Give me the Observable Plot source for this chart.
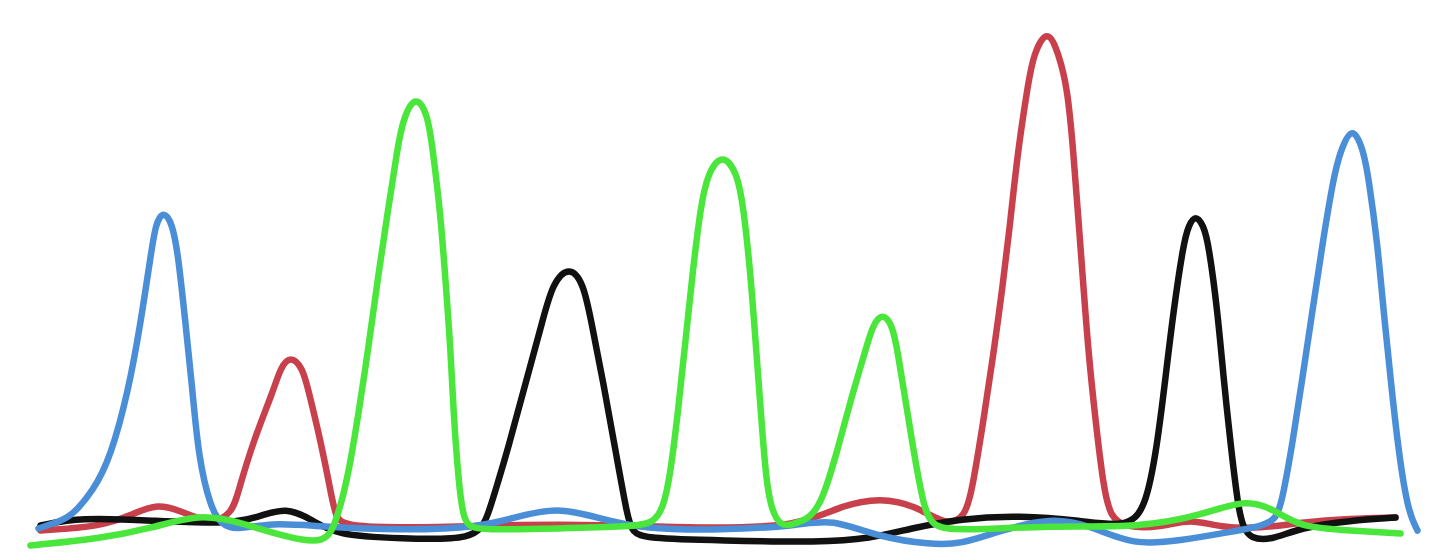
<!DOCTYPE html>
<html>
<head>
<meta charset="utf-8">
<script src="https://cdn.jsdelivr.net/npm/d3@7"></script>
<script src="https://cdn.jsdelivr.net/npm/@observablehq/plot@0.6"></script>
<style>
  html, body { margin: 0; padding: 0; background: #fff; }
  #chart svg { display: block; }
</style>
</head>
<body>
<div id="chart"></div>
<script>
// Chromatogram trace readings: scan position and signal intensity per dye channel
const blueX = [38,55,70,93,110,128,140,150,155,163,172,178,185,192,198,210,220,235,270,320,400,480,520,560,600,640,720,800,830,880,930,960,1000,1050,1090,1133,1180,1227,1265,1277,1283,1292,1302,1312,1322,1333,1340,1352,1363,1368,1377,1383,1390,1397,1407,1417];
const blueY = [32,38,43,70,103,170,237,303,337,350,337,303,237,170,103,53,37,30,38,34,30,33,45,53,42,32,30,35,42,23,16,16,30,43,35,15,20,28,35,43,67,117,183,250,317,383,410,436,410,383,317,250,183,117,50,30];

const redX = [40,100,130,155,180,210,232,238,253,273,280,290,302,308,320,330,335,345,440,520,600,700,800,840,880,915,945,965,972,983,993,1002,1010,1017,1027,1033,1047,1058,1067,1073,1078,1083,1088,1095,1103,1110,1125,1160,1190,1220,1260,1300,1350,1395];
const redY = [30,34,45,57,50,36,47,70,120,170,193,205,193,170,120,70,43,33,33,36,36,32,34,55,63,55,35,43,73,140,207,273,340,407,473,507,533,507,473,407,340,273,207,140,73,43,33,33,42,33,32,38,42,43];

const greenX = [30,100,150,200,240,290,325,335,347,358,368,377,387,397,403,415,427,432,440,445,450,453,458,463,475,560,630,653,663,670,678,685,692,700,707,722,737,743,750,755,760,765,770,780,795,810,822,837,850,865,872,882,892,897,905,913,922,930,960,1050,1140,1200,1247,1275,1300,1350,1400];
const greenY = [15,22,32,47,38,22,17,37,80,147,213,280,347,413,443,466,447,413,347,280,213,147,80,37,30,32,34,37,53,87,153,220,287,353,387,408,387,353,287,220,153,87,53,33,37,43,60,110,160,210,235,248,235,210,160,110,60,33,30,35,33,45,62,50,33,30,27];

const blackX = [40,80,150,230,262,285,310,335,400,475,487,497,507,525,543,552,569,583,590,603,615,627,632,645,720,820,870,910,960,1020,1080,1125,1145,1157,1165,1173,1183,1188,1195,1203,1208,1217,1223,1230,1238,1243,1250,1270,1300,1350,1395];
const blackY = [35,43,40,36,45,53,42,25,22,20,43,77,110,177,243,277,295,277,243,177,110,43,28,22,20,18,22,32,42,45,40,33,50,117,183,250,317,335,346,335,317,250,183,117,50,33,22,20,33,40,43];

const channels = ["T", "G", "C", "A"];   // drawn in this order
const channelColors = ["#c7404b", "#111111", "#4a8ed8", "#4be63c"];

const series = {
  T: [redX, redY],
  G: [blackX, blackY],
  C: [blueX, blueY],
  A: [greenX, greenY]
};

const rows = channels.flatMap(c => series[c][0].map((x, i) => ({channel: c, pos: x, signal: series[c][1][i]})));

const chart = Plot.plot({
  width: 1440,
  height: 560,
  margin: 0,
  x: {domain: [0, 1440], axis: null},
  y: {domain: [0, 560], axis: null},
  color: {domain: channels, range: channelColors},
  marks: channels.map(c => Plot.line(rows.filter(d => d.channel === c), {
    x: "pos",
    y: "signal",
    stroke: "channel",
    strokeWidth: 6.5,
    curve: "basis",
    strokeLinecap: "round",
    strokeLinejoin: "round"
  }))
});
document.getElementById("chart").appendChild(chart);
</script>
</body>
</html>
